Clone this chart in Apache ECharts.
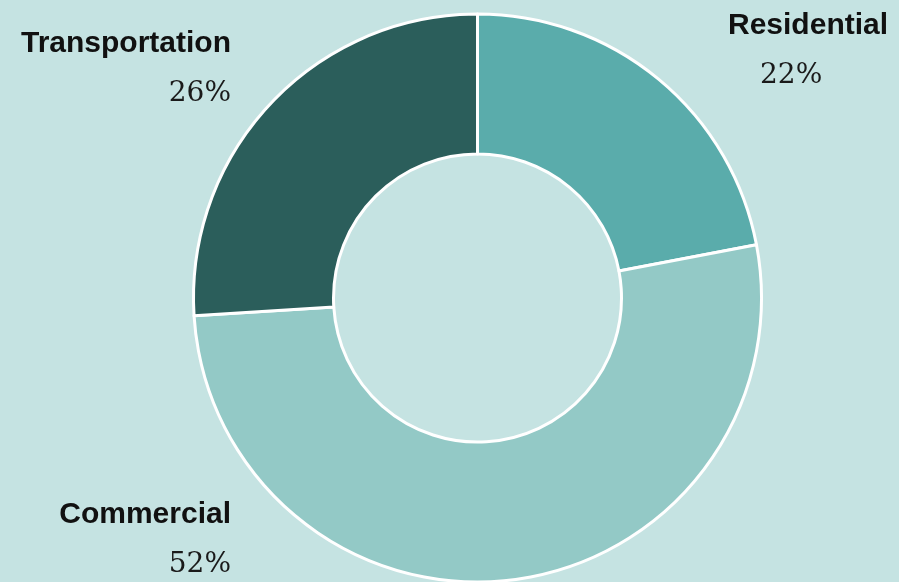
<!DOCTYPE html>
<html>
<head>
<meta charset="utf-8">
<script src="https://cdn.jsdelivr.net/npm/echarts@6/dist/echarts.min.js"></script>
<style>
html,body{margin:0;padding:0;background:#c5e3e2;}
#chart{width:899px;height:582px;}
</style>
</head>
<body>
<div id="chart"></div>
<script>
const categories = ['Residential', 'Commercial', 'Transportation'];
const shares = [22, 52, 26];
const sliceColors = ['#5aacab', '#93c9c6', '#2b5e5b'];

const labelSpots = {
  'Residential':    { x: 728, y: 4,   align: 'left' },
  'Commercial':     { x: 231, y: 493, align: 'right' },
  'Transportation': { x: 231, y: 22,  align: 'right' }
};

const chart = echarts.init(document.getElementById('chart'));
chart.setOption({
  backgroundColor: '#c5e3e2',
  animation: false,
  series: [{
    type: 'pie',
    center: [477.5, 298],
    radius: [144, 284],
    startAngle: 90,
    clockwise: true,
    avoidLabelOverlap: false,
    itemStyle: { borderColor: '#ffffff', borderWidth: 3 },
    labelLine: { show: false },
    label: {
      show: true,
      position: 'outside',
      formatter: p => '{n|' + p.name + '}\n{p' + (p.name === 'Residential' ? 'r' : '') + '|' + p.percent.toFixed(0) + '%}',
      rich: {
        n: { fontFamily: 'Liberation Sans', fontWeight: 'bold', fontSize: 30, color: '#111111', lineHeight: 44 },
        p: { fontFamily: 'DejaVu Serif', fontSize: 28, color: '#1a1a1a', lineHeight: 56, align: 'right' },
        pr: { fontFamily: 'DejaVu Serif', fontSize: 28, color: '#1a1a1a', lineHeight: 56, align: 'left', padding: [0, 0, 0, 32] }
      }
    },
    labelLayout: function (params) {
      const name = categories[params.dataIndex];
      const s = labelSpots[name];
      return { x: s.x, y: s.y, align: s.align, verticalAlign: 'top' };
    },
    emphasis: { disabled: true },
    data: categories.map((c, i) => ({ name: c, value: shares[i], itemStyle: { color: sliceColors[i] } }))
  }]
});
</script>
</body>
</html>
